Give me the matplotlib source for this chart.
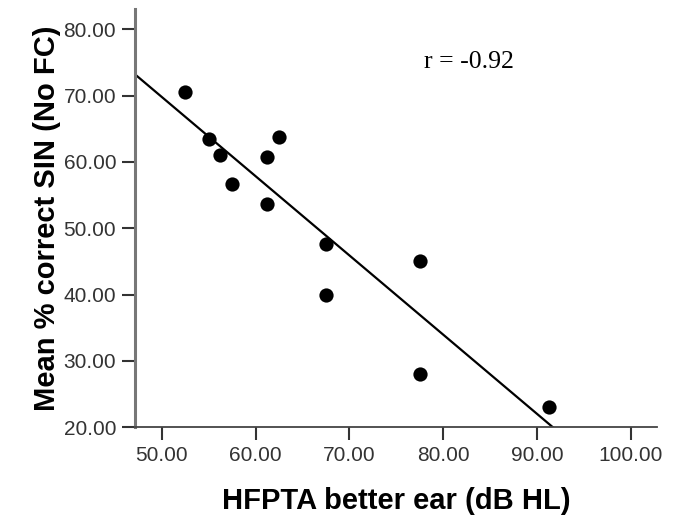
import numpy as np
import matplotlib
matplotlib.use("Agg")
import matplotlib.pyplot as plt

# HFPTA of the better ear (dB HL) and mean % correct speech-in-noise (no frequency compression)
hfpta = [52.5, 55.0, 56.25, 57.5, 61.25, 62.5, 61.25, 67.5, 67.5, 77.5, 77.5, 91.25]
sin_correct = [70.6, 63.5, 61.0, 56.7, 60.7, 63.75, 53.7, 47.7, 40.0, 45.05, 28.1, 23.0]

x_ticks = [50, 60, 70, 80, 90, 100]
y_ticks = [20, 30, 40, 50, 60, 70, 80]
x_label = "HFPTA better ear (dB HL)"
y_label = "Mean % correct SIN (No FC)"
r_text = "r = -0.92"

fig = plt.figure(figsize=(6.75, 5.24), dpi=100)
ax = fig.add_axes([0.2, 0.1845, 0.7733, 0.7975])

x = np.array(hfpta)
y = np.array(sin_correct)
xlim = (47.15, 102.8)
ylim = (20.0, 83.0)

# least-squares fit line across the axis range
slope, intercept = np.polyfit(x, y, 1)
fx = np.array(xlim)
ax.plot(fx, slope * fx + intercept, color="black", lw=1.6, zorder=2)

ax.scatter(x, y, s=105, color="black", zorder=3, linewidths=0)

ax.set_xlim(*xlim)
ax.set_ylim(*ylim)
ax.set_xticks(x_ticks)
ax.set_yticks(y_ticks)
ax.set_xticklabels([f"{v:.2f}" for v in x_ticks])
ax.set_yticklabels([f"{v:.2f}" for v in y_ticks])

for s in ("top", "right"):
    ax.spines[s].set_visible(False)
ax.spines["left"].set_color("#777777")
ax.spines["left"].set_linewidth(2.2)
ax.spines["bottom"].set_color("#444444")
ax.spines["bottom"].set_linewidth(1.3)

ax.tick_params(axis="both", direction="out", length=9.5, width=1.5,
               color="#333333", labelcolor="#333333", labelsize=15, pad=4)
for lab in ax.get_xticklabels() + ax.get_yticklabels():
    lab.set_fontfamily("Liberation Sans")

ax.set_xlabel(x_label, fontsize=21, fontweight="bold",
              fontfamily="Liberation Sans", labelpad=16)
ax.set_ylabel(y_label, fontsize=21, fontweight="bold",
              fontfamily="Liberation Sans", labelpad=2)

fig.text(469 / 675, 1 - 61.7 / 524, r_text, fontsize=18.5,
         fontfamily="Liberation Serif", ha="center", va="center")

fig.savefig("out.png", dpi=100, facecolor="white")
